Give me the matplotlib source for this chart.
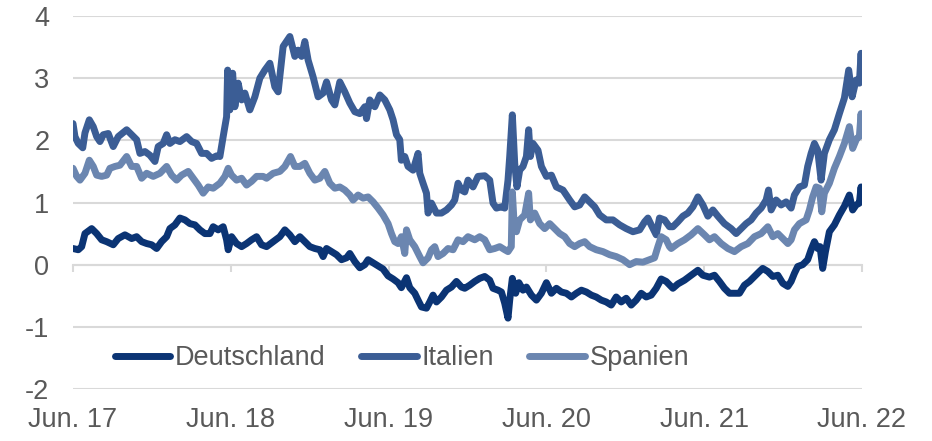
import matplotlib
matplotlib.use("Agg")
import matplotlib.pyplot as plt

plt.rcParams['font.family'] = ['Liberation Sans', 'DejaVu Sans']

# Monate seit Juni 2017 und Rendite in %
months_it = [0.0, 0.15, 0.4, 0.74, 0.91, 1.24, 1.54, 1.8, 2.05, 2.3, 2.68, 3.06, 3.44, 4.08, 4.46,
             4.84, 5.09, 5.47, 5.85, 6.23, 6.48, 6.86, 7.12, 7.37, 7.75, 8.13, 8.64, 9.02, 9.4, 9.78,
             10.16, 10.54, 10.92, 11.17, 11.42, 11.68, 11.76, 11.93, 12.14, 12.31, 12.56, 12.82,
             13.07, 13.45, 13.83, 14.21, 14.59, 14.97, 15.35, 15.6, 15.98, 16.49, 16.87, 17.12,
             17.38, 17.63, 17.88, 18.26, 18.64, 19.02, 19.28, 19.66, 19.91, 20.29, 20.67, 21.05,
             21.43, 21.81, 22.19, 22.32, 22.57, 22.95, 23.33, 23.71, 24.09, 24.34, 24.6, 24.85,
             24.97, 25.23, 25.48, 25.86, 26.24, 26.37, 26.62, 26.88, 27.0, 27.26, 27.64, 28.02,
             28.4, 28.78, 29.03, 29.28, 29.54, 29.79, 30.04, 30.42, 30.8, 31.31, 31.69, 31.94,
             32.2, 32.58, 32.83, 33.08, 33.21, 33.41, 33.59, 33.76, 33.97, 34.22, 34.48, 34.65,
             34.78, 34.98, 35.36, 35.62, 36.0, 36.38, 36.76, 37.26, 37.77, 38.15, 38.53, 38.91,
             39.29, 39.67, 40.05, 40.55, 41.06, 41.57, 42.07, 42.58, 43.09, 43.47, 43.72, 43.97,
             44.35, 44.6, 44.98, 45.36, 45.62, 46.0, 46.38, 46.76, 47.14, 47.52, 47.9, 48.28,
             48.66, 49.04, 49.54, 50.05, 50.43, 50.81, 51.19, 51.57, 51.95, 52.33, 52.71, 52.89,
             53.09, 53.47, 53.85, 54.23, 54.61, 54.86, 55.24, 55.62, 55.87, 56.13, 56.38, 56.63,
             56.89, 57.14, 57.52, 57.9, 58.28, 58.66, 58.99, 59.25, 59.55, 59.8, 59.93, 60.0]
italien = [2.27, 2.06, 1.95, 1.88, 2.12, 2.33, 2.22, 2.06, 1.98, 2.09, 2.11, 1.90, 2.06, 2.17, 2.09,
           2.01, 1.79, 1.82, 1.76, 1.66, 1.90, 1.95, 2.09, 1.95, 2.01, 1.98, 2.06, 1.98, 1.95, 1.79,
           1.79, 1.71, 1.75, 1.74, 2.06, 2.38, 3.13, 2.49, 3.08, 2.54, 2.92, 2.65,
           2.76, 2.49, 2.70, 3.00, 3.13, 3.24, 2.86, 2.78, 3.51, 3.67, 3.35, 3.45,
           3.35, 3.59, 3.29, 3.02, 2.70, 2.76, 2.94, 2.65, 2.57, 2.94, 2.78, 2.60,
           2.46, 2.43, 2.54, 2.35, 2.65, 2.54, 2.73, 2.65, 2.49, 2.33, 2.09, 2.01,
           1.68, 1.74, 1.58, 1.52, 1.79, 1.47, 1.31, 1.15, 0.83, 0.99, 0.83, 0.83,
           0.88, 0.96, 1.04, 1.31, 1.20, 1.17, 1.36, 1.25, 1.42, 1.43, 1.36, 0.99,
           0.91, 0.93, 0.91, 1.36, 1.74, 2.41, 1.63, 1.25, 1.52, 1.58, 1.74, 2.17,
           1.74, 1.95, 1.84, 1.58, 1.42, 1.44, 1.25, 1.20, 1.04, 0.93, 0.96, 1.09,
           1.01, 0.93, 0.80, 0.72, 0.72, 0.64, 0.58, 0.53, 0.56, 0.69, 0.75, 0.64,
           0.48, 0.75, 0.72, 0.61, 0.61, 0.69, 0.78, 0.83, 0.93, 1.09, 0.96, 0.78,
           0.88, 0.78, 0.66, 0.58, 0.50, 0.58, 0.66, 0.72, 0.83, 0.91, 1.04, 1.20,
           0.88, 1.04, 0.96, 1.01, 0.91, 1.12, 1.25, 1.28, 1.58, 1.79, 1.95, 1.84,
           1.36, 1.79, 2.01, 2.17, 2.43, 2.68, 3.13, 2.70, 2.97, 2.92, 3.40, 3.02]

months_es = [0.0, 0.28, 0.53, 0.91, 1.24, 1.54, 1.8, 2.18, 2.56, 2.81, 3.19, 3.57, 4.08, 4.46, 4.84,
             5.22, 5.6, 6.1, 6.61, 7.12, 7.5, 7.88, 8.26, 8.76, 9.14, 9.52, 9.9, 10.28, 10.66,
             11.17, 11.55, 11.8, 12.06, 12.44, 12.82, 13.2, 13.58, 13.96, 14.46, 14.72, 15.22,
             15.73, 16.11, 16.54, 16.87, 17.25, 17.63, 18.01, 18.39, 18.77, 19.15, 19.53, 19.91,
             20.29, 20.67, 21.05, 21.3, 21.68, 22.06, 22.44, 22.82, 23.2, 23.58, 23.96, 24.22,
             24.47, 24.72, 24.97, 25.23, 25.36, 25.61, 25.99, 26.37, 26.62, 27.0, 27.26, 27.51,
             27.76, 28.14, 28.52, 28.9, 29.28, 29.66, 30.04, 30.55, 30.93, 31.31, 31.69, 32.07,
             32.45, 32.83, 33.08, 33.33, 33.41, 33.53, 33.72, 33.97, 34.35, 34.65, 34.78, 35.11,
             35.49, 35.87, 36.25, 36.63, 37.01, 37.39, 37.77, 38.15, 38.53, 38.91, 39.29, 39.79,
             40.3, 40.81, 41.31, 41.82, 42.33, 42.83, 43.34, 43.84, 44.22, 44.48, 44.73, 45.11,
             45.36, 45.49, 46.0, 46.5, 47.01, 47.52, 48.02, 48.4, 48.78, 49.29, 49.8, 50.3,
             50.81, 51.32, 51.82, 52.33, 52.84, 53.22, 53.6, 53.98, 54.36, 54.61, 54.86, 55.24,
             55.75, 56.0, 56.25, 56.51, 56.76, 56.94, 57.14, 57.52, 57.9, 58.28, 58.66, 59.04,
             59.29, 59.6, 59.8, 59.93, 60.0]
spanien = [1.55, 1.42, 1.36, 1.47, 1.68, 1.58, 1.44, 1.42, 1.44, 1.55, 1.58, 1.60, 1.74, 1.58, 1.58,
           1.39, 1.47, 1.42, 1.47, 1.58, 1.44, 1.36, 1.44, 1.50, 1.39, 1.28, 1.15, 1.25, 1.23,
           1.31, 1.42, 1.55, 1.44, 1.36, 1.39, 1.28, 1.34, 1.42, 1.42, 1.39, 1.47,
           1.50, 1.58, 1.74, 1.58, 1.58, 1.63, 1.47, 1.36, 1.39, 1.50, 1.31, 1.23,
           1.25, 1.20, 1.12, 1.04, 1.12, 1.07, 1.09, 1.01, 0.91, 0.80, 0.66, 0.50,
           0.37, 0.34, 0.45, 0.18, 0.56, 0.40, 0.29, 0.13, 0.03, 0.11, 0.24, 0.29,
           0.13, 0.18, 0.26, 0.24, 0.40, 0.37, 0.45, 0.40, 0.45, 0.40, 0.24, 0.26,
           0.29, 0.24, 0.21, 0.29, 1.17, 0.72, 0.53, 0.72, 0.80, 1.15, 0.72, 0.83,
           0.66, 0.58, 0.66, 0.58, 0.50, 0.45, 0.34, 0.29, 0.34, 0.37, 0.29, 0.24,
           0.21, 0.16, 0.13, 0.08, 0.00, 0.05, 0.04, 0.08, 0.11, 0.29, 0.45, 0.40,
           0.29, 0.26, 0.34, 0.40, 0.48, 0.58, 0.48, 0.40, 0.45, 0.34, 0.26, 0.21,
           0.29, 0.34, 0.45, 0.50, 0.61, 0.45, 0.50, 0.42, 0.34, 0.40, 0.56, 0.66,
           0.72, 0.88, 1.09, 1.25, 1.23, 0.85, 1.15, 1.31, 1.55, 1.74, 1.95, 2.22,
           1.87, 2.03, 2.06, 2.43, 2.11]

months_de = [0.0, 0.4, 0.66, 0.91, 1.42, 1.8, 2.18, 2.56, 3.06, 3.44, 3.95, 4.46, 4.84, 5.22, 5.6,
             5.98, 6.36, 6.74, 7.12, 7.37, 7.75, 8.13, 8.51, 8.89, 9.27, 9.65, 10.03, 10.41,
             10.66, 11.04, 11.42, 11.68, 11.8, 12.06, 12.44, 12.82, 13.2, 13.58, 13.96, 14.34,
             14.72, 15.22, 15.73, 16.11, 16.49, 16.87, 17.25, 17.63, 18.01, 18.39, 18.77, 19.02,
             19.28, 19.66, 20.04, 20.42, 20.8, 21.05, 21.43, 21.81, 22.19, 22.44, 22.82, 23.2,
             23.58, 23.96, 24.34, 24.72, 24.97, 25.36, 25.61, 25.99, 26.24, 26.5, 26.88, 27.13,
             27.38, 27.64, 28.02, 28.4, 28.78, 29.16, 29.54, 29.79, 30.17, 30.55, 30.93, 31.31,
             31.69, 31.94, 32.32, 32.58, 32.83, 33.08, 33.21, 33.41, 33.66, 33.91, 34.22, 34.48,
             34.86, 35.24, 35.62, 36.0, 36.38, 36.76, 37.14, 37.52, 37.9, 38.28, 38.66, 39.04,
             39.42, 39.79, 40.17, 40.55, 40.93, 41.31, 41.69, 42.07, 42.45, 42.83, 43.21, 43.59,
             43.97, 44.35, 44.73, 45.11, 45.62, 46.0, 46.5, 47.01, 47.52, 47.9, 48.4, 48.78,
             49.16, 49.54, 49.92, 50.3, 50.68, 51.06, 51.44, 51.82, 52.2, 52.45, 52.84, 53.22,
             53.6, 53.98, 54.36, 54.61, 54.86, 55.11, 55.49, 55.87, 56.13, 56.38, 56.63, 56.81,
             57.01, 57.22, 57.52, 57.9, 58.28, 58.66, 59.04, 59.29, 59.55, 59.8, 59.93, 60.0]
deutschland = [0.26, 0.24, 0.29, 0.50, 0.58, 0.50, 0.40, 0.37, 0.32, 0.42, 0.48, 0.42, 0.45, 0.37, 0.34,
               0.32, 0.26, 0.37, 0.45, 0.58, 0.64, 0.75, 0.72, 0.66, 0.64, 0.56, 0.50, 0.50,
               0.61, 0.56, 0.61, 0.40, 0.24, 0.45, 0.34, 0.29, 0.34, 0.40, 0.45, 0.32,
               0.29, 0.37, 0.45, 0.56, 0.48, 0.37, 0.45, 0.37, 0.29, 0.26, 0.24, 0.13,
               0.26, 0.21, 0.16, 0.08, 0.11, 0.18, 0.05, -0.05, 0.00, 0.08, 0.03, -0.02,
               -0.07, -0.18, -0.23, -0.29, -0.37, -0.21, -0.37, -0.46, -0.57, -0.68, -0.70, -0.60,
               -0.49, -0.60, -0.52, -0.41, -0.36, -0.27, -0.36, -0.38, -0.33, -0.27, -0.22, -0.19,
               -0.25, -0.38, -0.41, -0.44, -0.62, -0.86, -0.57, -0.22, -0.46, -0.29, -0.41, -0.36,
               -0.49, -0.57, -0.46, -0.29, -0.46, -0.38, -0.44, -0.46, -0.52, -0.46, -0.41, -0.44,
               -0.49, -0.52, -0.57, -0.60, -0.65, -0.52, -0.60, -0.54, -0.65, -0.57, -0.46, -0.52,
               -0.49, -0.38, -0.23, -0.27, -0.38, -0.31, -0.25, -0.17, -0.09, -0.17, -0.20, -0.17,
               -0.27, -0.38, -0.46, -0.46, -0.46, -0.33, -0.27, -0.19, -0.11, -0.06, -0.11, -0.19,
               -0.17, -0.30, -0.35, -0.27, -0.14, -0.03, 0.00, 0.08, 0.24, 0.37, 0.26, 0.29,
               -0.06, 0.21, 0.53, 0.64, 0.80, 0.94, 1.12, 0.88, 0.96, 0.99, 1.25, 1.04]

tick_months = [0, 12, 24, 36, 48, 60]
tick_labels = ['Jun. 17', 'Jun. 18', 'Jun. 19', 'Jun. 20', 'Jun. 21', 'Jun. 22']
y_ticks = [-2, -1, 0, 1, 2, 3, 4]

grey_text = '#595959'
grid_col = '#d9d9d9'
fs = 19.5
lw = 5

fig = plt.figure(figsize=(9.32, 4.41), dpi=100)
ax = fig.add_axes([73 / 932, 52 / 441, 789 / 932, 373 / 441])

ax.plot(months_de, deutschland, color='#0b3474', lw=lw, label='Deutschland',
        solid_joinstyle='round', solid_capstyle='round', zorder=3)
ax.plot(months_it, italien, color='#3b5d95', lw=lw, label='Italien',
        solid_joinstyle='round', solid_capstyle='round', zorder=3)
ax.plot(months_es, spanien, color='#6b86b0', lw=lw, label='Spanien',
        solid_joinstyle='round', solid_capstyle='round', zorder=3)

ax.set_xlim(0, 60)
ax.set_ylim(-2, 4)
ax.set_yticks(y_ticks)
ax.set_yticklabels([str(v) for v in y_ticks])
ax.set_xticks(tick_months)
ax.set_xticklabels(tick_labels)
ax.tick_params(axis='both', length=0, labelsize=fs, labelcolor=grey_text)
ax.tick_params(axis='y', pad=17)
ax.tick_params(axis='x', pad=13)
ax.grid(axis='y', color=grid_col, lw=1.5)
ax.set_axisbelow(True)
for s in ax.spines.values():
    s.set_visible(False)

# Kategorieachse auf Höhe der Null-Linie mit Teilstrichen
y0, y1 = ax.get_ylim()
secx = ax.secondary_xaxis((0 - y0) / (y1 - y0))
secx.set_xticks(tick_months)
secx.set_xticklabels([''] * len(tick_months))
secx.tick_params(length=5, width=1.5, color=grid_col, direction='out')
secx.spines['bottom'].set_color(grid_col)
secx.spines['bottom'].set_linewidth(1.5)

leg = ax.legend(loc='center left', bbox_to_anchor=(0.053, 0.083), ncol=3, frameon=False,
                fontsize=fs, handlelength=2.05, handletextpad=0.18, columnspacing=1.3,
                borderpad=0, borderaxespad=0)
for t in leg.get_texts():
    t.set_color(grey_text)

fig.savefig('out.png', dpi=100)
